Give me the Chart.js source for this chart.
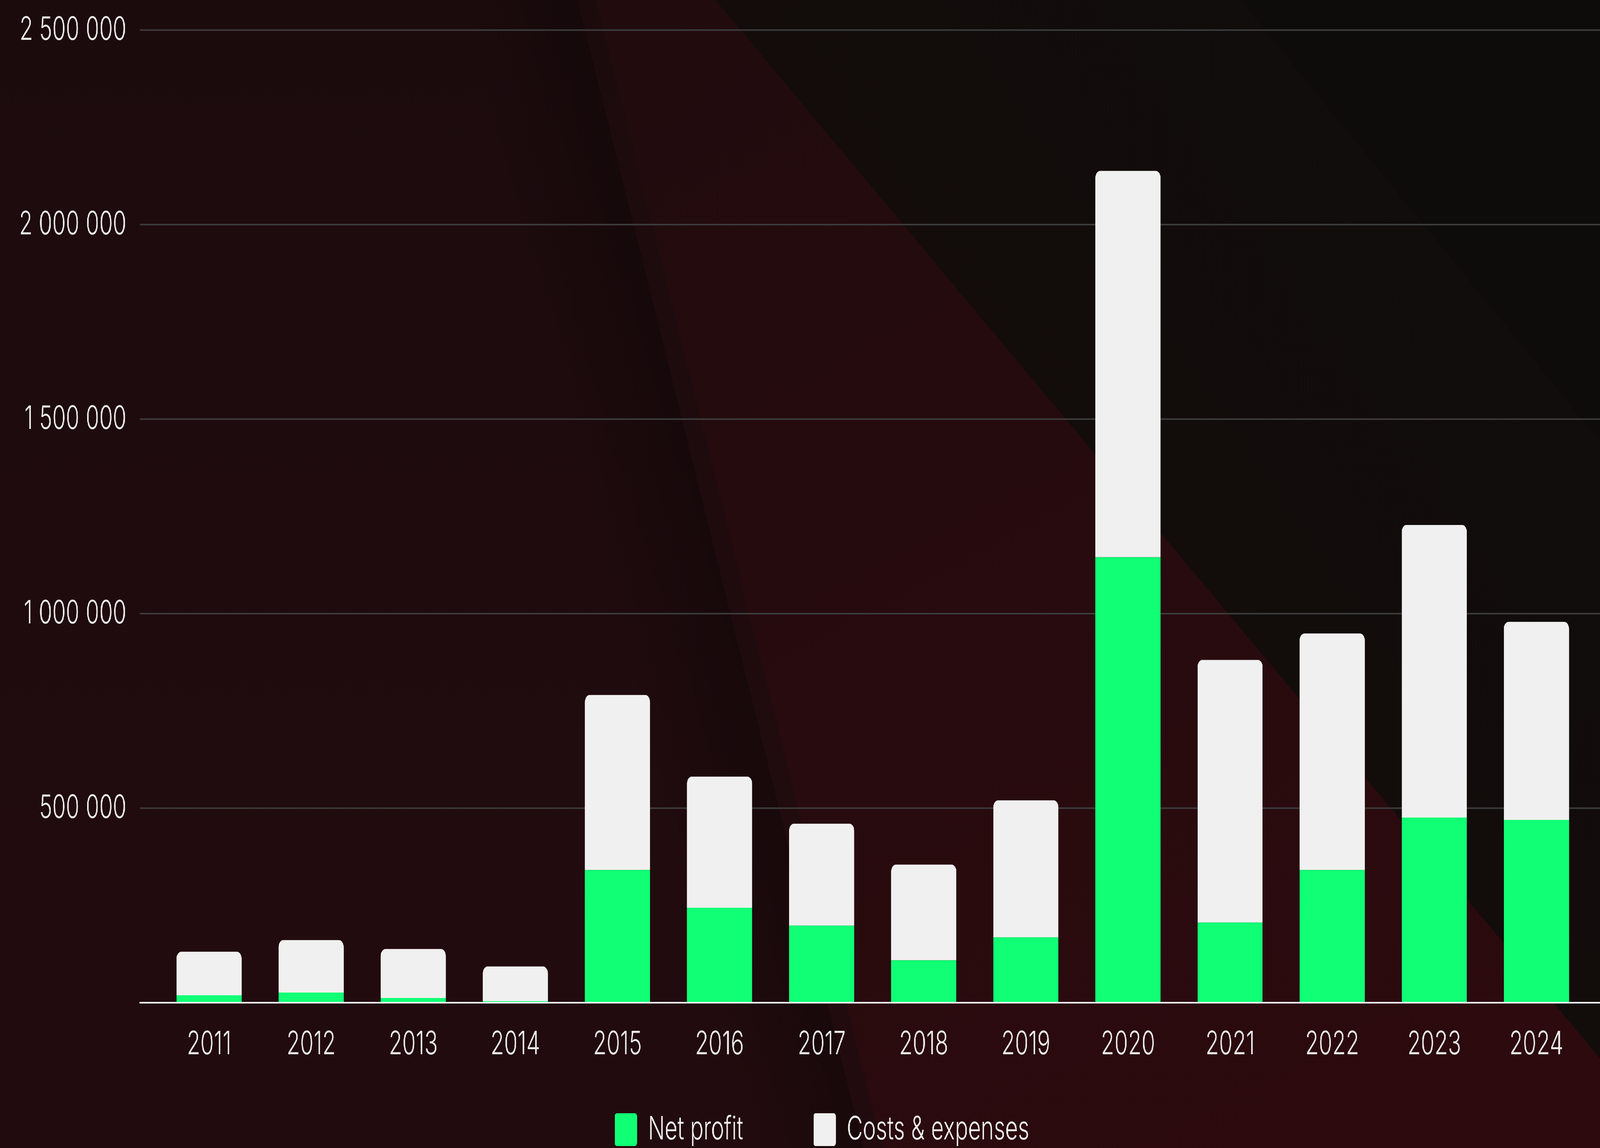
<!DOCTYPE html>
<html>
<head>
<meta charset="utf-8">
<script src="https://cdn.jsdelivr.net/npm/chart.js@4.4.0/dist/chart.umd.min.js"></script>
<style>
html,body{margin:0;padding:0;overflow:hidden;background:#1f0c0e;}
#stage{position:absolute;left:0;top:0;width:6038px;height:2939px;overflow:hidden;transform-origin:0 0;}
#bg{position:absolute;left:0;top:0;width:6038px;height:2939px;overflow:hidden;}
.layer{position:absolute;left:0;top:0;width:6038px;height:2939px;}
#shadow{position:absolute;left:2299px;top:-531px;width:420px;height:4000px;transform-origin:100% 50%;transform:rotate(-20.16deg);background:linear-gradient(to right,rgba(0,0,0,0) 0%,rgba(6,4,4,0.32) 100%);}
#wrap{position:absolute;left:0;top:0;width:6038px;height:2939px;}
</style>
</head>
<body>
<div id="stage">
<div id="bg">
  <div class="layer" style="background:linear-gradient(180deg,#1c0b0d 0%,#220b0e 100%)"></div>
  <div id="shadow"></div>
  <div class="layer" style="clip-path:polygon(2250px 0,6038px 0,6038px 2939px,3330px 2939px);background:linear-gradient(160deg,#1e0b0d 0%,#260b0e 50%,#2d0a0e 100%)"></div>
  <div class="layer" style="clip-path:polygon(2700px 0,6038px 0,6038px 2710px);background:linear-gradient(225deg,#0f0d0b 0%,#130c0b 40%,#170c0c 100%)"></div>
  <div class="layer" style="clip-path:polygon(4680px 0,6038px 0,6038px 1130px);background:#0e0c0b"></div>
</div>
<div id="wrap"><canvas id="c"></canvas></div>
</div>
<script>
const categories = ['2011','2012','2013','2014','2015','2016','2017','2018','2019','2020','2021','2022','2023','2024'];
const netProfit = [19000, 26000, 12000, 4000, 341000, 244000, 198000, 109000, 168000, 1145000, 206000, 341000, 476000, 470000];
const costsExpenses = [112000, 135000, 126000, 89000, 450000, 337000, 262000, 246000, 352000, 993000, 675000, 608000, 752000, 509000];
const seriesNames = ['Net profit', 'Costs & expenses'];
const yTickValues = [0, 500000, 1000000, 1500000, 2000000, 2500000];
const yTickLabels = ['', '500 000', '1 000 000', '1 500 000', '2 000 000', '2 500 000'];

// Page is designed at 6038x2939; fit it to the actual window if it differs.
const W = 6038, H = 2939;
const vw = window.innerWidth, vh = window.innerHeight;
if (Math.abs(vw - W) > 2 || Math.abs(vh - H) > 2) {
  document.getElementById('stage').style.transform = 'scale(' + (vw / W) + ',' + (vh / H) + ')';
}

const FONT = 'Inter';
const FS = 83;
const FW = 300;
const BOX = 84;
const mctx = document.createElement('canvas').getContext('2d');
mctx.font = FW + ' ' + FS + 'px ' + FONT;
const text1W = mctx.measureText(seriesNames[0]).width;
const legendPad = Math.max(20, 750 - (BOX + FS / 2 + text1W));
const legendStartX = 2320;
const legendItemTop = 2850;
const legendMaxH = 110;
const xAxisH = H - legendMaxH - 2567;

const legendShift = {
  id: 'legendShift',
  afterLayout(chart) {
    const lg = chart.legend;
    if (!lg || !lg.lineWidths) return;
    const pad = lg.options.labels.padding;
    const start = (lg.left + pad + lg.right - lg.lineWidths[0]) / 2;
    const dx = legendStartX - start;
    lg.left += dx; lg.right += dx;
    lg.top = legendItemTop - pad;
    lg.bottom = chart.height;
    lg.height = lg.bottom - lg.top;
  }
};

new Chart(document.getElementById('c'), {
  type: 'bar',
  data: {
    datasets: [
      {
        label: seriesNames[0],
        data: netProfit.map((v, i) => ({x: i, y: v})),
        backgroundColor: '#10ff75',
        borderWidth: 0,
        borderRadius: 0
      },
      {
        label: seriesNames[1],
        data: costsExpenses.map((v, i) => ({x: i, y: v})),
        backgroundColor: '#f0f0f0',
        borderWidth: 0,
        borderRadius: {topLeft: 18, topRight: 18, bottomLeft: 0, bottomRight: 0},
        borderSkipped: 'start'
      }
    ]
  },
  options: {
    responsive: true,
    maintainAspectRatio: false,
    devicePixelRatio: 1,
    animation: false,
    layout: {padding: {top: 77, left: 0, right: 0, bottom: 0}},
    datasets: {bar: {barPercentage: 0.638, categoryPercentage: 1.0}},
    plugins: {
      tooltip: {enabled: false},
      legend: {
        position: 'bottom',
        maxHeight: legendMaxH,
        labels: {
          color: '#f0f0f0',
          font: {family: FONT, size: FS, weight: FW},
          boxWidth: BOX,
          boxHeight: BOX,
          padding: legendPad,
          useBorderRadius: true,
          borderRadius: 8
        }
      }
    },
    scales: {
      x: {
        type: 'linear',
        offset: false,
        stacked: true,
        min: -0.677,
        max: 13.623,
        z: 1,
        afterBuildTicks: (s) => { s.ticks = categories.map((c, i) => ({value: i})); },
        afterFit: (s) => { s.height = xAxisH; s.paddingLeft = 0; s.paddingRight = 0; },
        grid: {display: false, drawTicks: false},
        border: {display: true, color: '#ffffff', width: 4},
        ticks: {
          color: '#ebebeb',
          font: {family: FONT, size: FS, weight: FW},
          padding: 57,
          maxRotation: 0,
          autoSkip: false,
          callback: (v) => categories[v]
        }
      },
      y: {
        stacked: true,
        min: 0,
        max: 2500000,
        afterBuildTicks: (s) => { s.ticks = yTickValues.map(v => ({value: v})); },
        afterFit: (s) => { s.width = 528; s.paddingTop = 0; s.paddingBottom = 0; },
        grid: {color: '#3b3b3b', lineWidth: 4, drawTicks: false},
        border: {display: false},
        ticks: {
          color: '#ebebeb',
          font: {family: FONT, size: FS, weight: FW},
          padding: 51,
          callback: (v, i) => yTickLabels[i]
        }
      }
    }
  },
  plugins: [legendShift]
});
</script>
</body>
</html>
